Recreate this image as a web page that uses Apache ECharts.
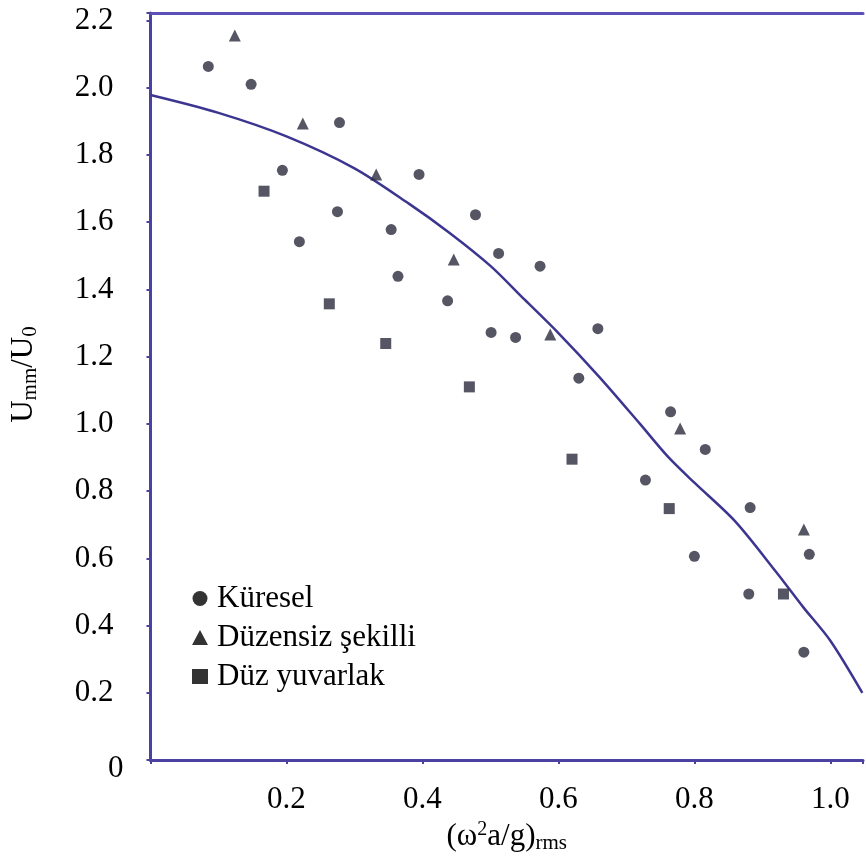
<!DOCTYPE html>
<html>
<head>
<meta charset="utf-8">
<script src="https://cdn.jsdelivr.net/npm/echarts@6/dist/echarts.min.js"></script>
<style>
  html, body { margin: 0; padding: 0; background: #ffffff; }
  #chart { width: 866px; height: 859px; }
</style>
</head>
<body>
<div id="chart"></div>
<script>
// ---- data ----
var seriesNames = ['Küresel', 'Düzensiz şekilli', 'Düz yuvarlak'];

var kureselPoints = [
  [0.085, 2.063], [0.148, 2.010], [0.194, 1.754], [0.219, 1.542], [0.278, 1.896],
  [0.395, 1.742], [0.275, 1.631], [0.354, 1.578], [0.478, 1.622], [0.512, 1.507],
  [0.573, 1.469], [0.364, 1.439], [0.437, 1.366], [0.501, 1.272], [0.537, 1.257],
  [0.658, 1.283], [0.630, 1.136], [0.765, 1.036], [0.816, 0.924], [0.728, 0.833],
  [0.882, 0.751], [0.969, 0.612], [0.800, 0.606], [0.880, 0.494], [0.961, 0.321]
];

var duzensizPoints = [
  [0.124, 2.155], [0.224, 1.893], [0.332, 1.742], [0.446, 1.489],
  [0.588, 1.266], [0.779, 0.986], [0.961, 0.686]
];

var duzYuvarlakPoints = [
  [0.167, 1.692], [0.263, 1.357], [0.346, 1.239], [0.469, 1.110],
  [0.620, 0.895], [0.763, 0.748], [0.931, 0.494]
];

var curvePoints = [
  [0, 1.978], [0.1, 1.925], [0.2, 1.855], [0.3, 1.76], [0.38, 1.655], [0.44, 1.568],
  [0.5, 1.47], [0.55, 1.37], [0.6, 1.27], [0.66, 1.14], [0.72, 1.0], [0.76, 0.905],
  [0.8, 0.825], [0.86, 0.71], [0.92, 0.56], [0.96, 0.455], [1.0, 0.355], [1.047, 0.2]
];

var xTickStep = 0.2;
var yTickStep = 0.2;

// ---- chart ----
var FONT = 'Liberation Serif';
var axisColor = '#4b41a0';
var pointColor = '#2a2a3c';

function isMultiple(v, step) {
  var r = v / step;
  return Math.abs(r - Math.round(r)) < 1e-6;
}

var chart = echarts.init(document.getElementById('chart'), null, { renderer: 'canvas' });

var option = {
  backgroundColor: '#ffffff',
  animation: false,
  grid: { left: 150, right: 0, top: 13, bottom: 91, containLabel: false },
  legend: {
    orient: 'vertical',
    left: 192,
    top: 583,
    padding: 0,
    itemWidth: 16,
    itemHeight: 15,
    itemGap: 8,
    textStyle: { color: '#000', fontSize: 31, fontFamily: FONT, lineHeight: 30, padding: [0, 0, 0, 4] },
    data: [
      { name: seriesNames[0], icon: 'circle', itemStyle: { color: '#000' } },
      { name: seriesNames[1], icon: 'triangle', itemStyle: { color: '#000' } },
      { name: seriesNames[2], icon: 'rect', itemStyle: { color: '#000' } }
    ]
  },
  xAxis: [
    {
      type: 'value',
      position: 'bottom',
      min: 0,
      max: 1.048,
      interval: xTickStep,
      splitLine: { show: false },
      axisLine: { show: true, onZero: false, lineStyle: { color: axisColor, width: 3 } },
      axisTick: { show: true, length: 4, lineStyle: { color: axisColor, width: 2 } },
      axisLabel: {
        margin: 24,
        color: '#000',
        fontSize: 31,
        fontFamily: FONT,
        formatter: function (v) {
          if (v === 0 || !isMultiple(v, xTickStep)) return '';
          return v.toFixed(1);
        }
      },
      name: '{m|(ω}{sup|2}{m|a/g)}{sub|rms}',
      nameLocation: 'middle',
      nameGap: 52,
      nameTextStyle: {
        color: '#000',
        fontFamily: FONT,
        rich: {
          m: { fontSize: 31, fontFamily: FONT, color: '#000', lineHeight: 34 },
          sup: { fontSize: 20, fontFamily: FONT, color: '#000', lineHeight: 20, verticalAlign: 'top' },
          sub: { fontSize: 21, fontFamily: FONT, color: '#000', lineHeight: 22, verticalAlign: 'bottom' }
        }
      }
    },
    {
      type: 'value',
      position: 'top',
      min: 0,
      max: 1.048,
      interval: xTickStep,
      splitLine: { show: false },
      axisLine: { show: true, onZero: false, lineStyle: { color: '#5a50b8', width: 3 } },
      axisTick: { show: false },
      axisLabel: { show: false }
    }
  ],
  yAxis: {
    type: 'value',
    min: 0,
    max: 2.222,
    interval: yTickStep,
    splitLine: { show: false },
    axisLine: { show: true, onZero: false, lineStyle: { color: axisColor, width: 3 } },
    axisTick: { show: true, length: 4, lineStyle: { color: axisColor, width: 2 } },
    axisLabel: {
      margin: 27,
      color: '#000',
      fontSize: 31,
      fontFamily: FONT,
      formatter: function (v) {
        if (v === 0) return '{z|0}';
        if (!isMultiple(v, yTickStep)) return '';
        return '{n|' + v.toFixed(1) + '}';
      },
      rich: {
        n: { fontSize: 31, fontFamily: FONT, color: '#000', padding: [0, 10, 0, 0] },
        z: { fontSize: 31, fontFamily: FONT, color: '#000', padding: [18, 0, 0, 0] }
      }
    },
    name: '{m|U}{sub|mm}{m|/U}{sub|0}',
    nameLocation: 'middle',
    nameRotate: 90,
    nameGap: 110,
    nameTextStyle: {
      color: '#000',
      fontFamily: FONT,
      padding: [0, 0, 0, 24],
      rich: {
        m: { fontSize: 31, fontFamily: FONT, color: '#000', lineHeight: 34 },
        sub: { fontSize: 21, fontFamily: FONT, color: '#000', lineHeight: 14, verticalAlign: 'bottom' }
      }
    }
  },
  series: [
    {
      name: 'curve',
      type: 'line',
      data: curvePoints,
      smooth: 0.3,
      showSymbol: false,
      symbol: 'none',
      lineStyle: { color: '#3d3691', width: 2.5 },
      z: 2
    },
    {
      name: seriesNames[0],
      type: 'scatter',
      data: kureselPoints,
      symbol: 'circle',
      symbolSize: 11,
      itemStyle: { color: pointColor },
      z: 3
    },
    {
      name: seriesNames[1],
      type: 'scatter',
      data: duzensizPoints,
      symbol: 'triangle',
      symbolSize: 12,
      itemStyle: { color: pointColor },
      z: 3
    },
    {
      name: seriesNames[2],
      type: 'scatter',
      data: duzYuvarlakPoints,
      symbol: 'rect',
      symbolSize: 11,
      itemStyle: { color: pointColor },
      z: 3
    }
  ]
};

chart.setOption(option);
</script>
</body>
</html>
